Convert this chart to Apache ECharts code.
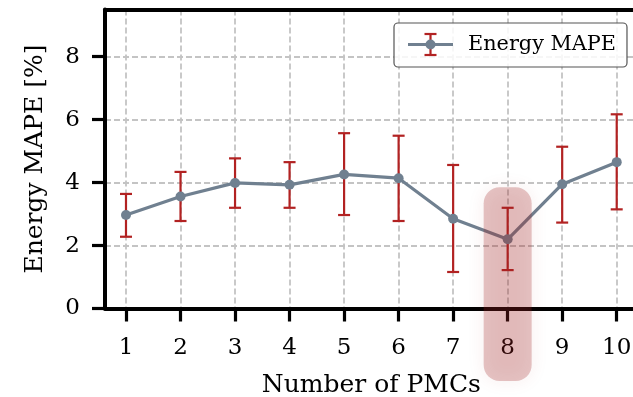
<!DOCTYPE html>
<html>
<head>
<meta charset="utf-8">
<script src="https://cdn.jsdelivr.net/npm/echarts@6/dist/echarts.min.js"></script>
<style>
html,body{margin:0;padding:0;background:#fff;}
#chart{width:633px;height:397px;}
</style>
</head>
<body>
<div id="chart"></div>
<script>
// ---- data ----
const pmcs = [1, 2, 3, 4, 5, 6, 7, 8, 9, 10];
const mape = [2.97, 3.56, 3.99, 3.93, 4.26, 4.14, 2.85, 2.20, 3.95, 4.65];
const errLow = [2.28, 2.78, 3.20, 3.20, 2.97, 2.78, 1.16, 1.22, 2.73, 3.15];
const errHigh = [3.64, 4.34, 4.77, 4.65, 5.57, 5.49, 4.56, 3.20, 5.14, 6.17];
const xTicks = [1, 2, 3, 4, 5, 6, 7, 8, 9, 10];
const yTicks = [0, 2, 4, 6, 8];
const highlightPMC = [8];
const highlightRange = [-2.3, 3.85];
const seriesName = 'Energy MAPE';

const FONT = 'DejaVu Serif';
const LINE_COLOR = '#708090';
const ERR_COLOR = '#b22222';
const GRID_COLOR = '#c4c4c4';

const chart = echarts.init(document.getElementById('chart'), null, {renderer: 'canvas'});

const lineData = pmcs.map((x, i) => [x, mape[i]]);
const errData = pmcs.map((x, i) => [x, errLow[i], errHigh[i]]);
const hlData = highlightPMC.map(x => [x, highlightRange[0], highlightRange[1]]);

// legend geometry (component layout, not data)
const LG = {left: 394, top: 23, w: 233, h: 44};
const iconX0 = LG.left + 14, iconX1 = iconX0 + 45, iconY = LG.top + 21.5;
const iconXc = (iconX0 + iconX1) / 2;

const option = {
  backgroundColor: '#fff',
  animation: false,
  grid: {left: 105, top: 9.5, right: -4.7, bottom: 88.5, containLabel: false, outerBoundsMode: 'none'},
  xAxis: [{
    type: 'value',
    min: 0.615, max: 10.385,
    minInterval: 1, maxInterval: 1,
    name: 'Number of PMCs',
    nameLocation: 'middle',
    nameGap: 64,
    nameTextStyle: {fontFamily: FONT, fontSize: 25, color: '#000'},
    axisLine: {show: true, onZero: false, lineStyle: {color: '#000', width: 4}},
    axisTick: {show: true, customValues: xTicks, length: 13, lineStyle: {color: '#000', width: 3.2}},
    axisLabel: {customValues: xTicks, margin: 28, fontFamily: FONT, fontSize: 23, color: '#000'},
    splitLine: {show: true, lineStyle: {color: GRID_COLOR, width: 1.8, type: [6, 3]}}
  }, {
    type: 'value',
    position: 'top',
    min: 0.615, max: 10.385,
    axisLine: {show: true, onZero: false, lineStyle: {color: '#000', width: 4}},
    axisTick: {show: false},
    axisLabel: {show: false},
    splitLine: {show: false}
  }],
  yAxis: {
    type: 'value',
    min: 0, max: 9.5, interval: 2,
    name: 'Energy MAPE [%]',
    nameLocation: 'middle',
    nameGap: 57,
    nameTextStyle: {fontFamily: FONT, fontSize: 25, color: '#000'},
    axisLine: {show: true, onZero: false, lineStyle: {color: '#000', width: 4}},
    axisTick: {show: true, customValues: yTicks, length: 13, lineStyle: {color: '#000', width: 3.2}},
    axisLabel: {customValues: yTicks, margin: 25, fontFamily: FONT, fontSize: 23, color: '#000'},
    splitLine: {show: true, lineStyle: {color: GRID_COLOR, width: 1.8, type: [6, 3]}}
  },
  legend: {
    left: LG.left, top: LG.top,
    padding: [11.5, 11, 11.5, 14],
    itemWidth: 55, itemHeight: 14,
    selectedMode: false,
    backgroundColor: 'rgba(255,255,255,0.85)',
    borderColor: '#555',
    borderWidth: 1.2,
    borderRadius: 4,
    textStyle: {fontFamily: FONT, fontSize: 20.8, color: '#000'},
    data: [{name: seriesName, icon: 'rect', itemStyle: {opacity: 0}}]
  },
  graphic: [
    {type: 'line', z: 20, shape: {x1: iconXc, y1: iconY - 10.5, x2: iconXc, y2: iconY + 10.5}, style: {stroke: ERR_COLOR, lineWidth: 2.2}},
    {type: 'line', z: 20, shape: {x1: iconXc - 6, y1: iconY - 10.5, x2: iconXc + 6, y2: iconY - 10.5}, style: {stroke: ERR_COLOR, lineWidth: 2.2}},
    {type: 'line', z: 20, shape: {x1: iconXc - 6, y1: iconY + 10.5, x2: iconXc + 6, y2: iconY + 10.5}, style: {stroke: ERR_COLOR, lineWidth: 2.2}},
    {type: 'line', z: 21, shape: {x1: iconX0, y1: iconY, x2: iconX1, y2: iconY}, style: {stroke: LINE_COLOR, lineWidth: 3.2}},
    {type: 'circle', z: 22, shape: {cx: iconXc, cy: iconY, r: 5}, style: {fill: LINE_COLOR}}
  ],
  series: [
    {
      type: 'custom',
      name: 'errorbars',
      xAxisIndex: 0,
      z: 2,
      clip: false,
      data: errData,
      encode: {x: 0, y: [1, 2]},
      renderItem: function (params, api) {
        const x = api.value(0);
        const pLo = api.coord([x, api.value(1)]);
        const pHi = api.coord([x, api.value(2)]);
        const h = 6;
        const st = {stroke: ERR_COLOR, lineWidth: 2.2};
        return {type: 'group', children: [
          {type: 'line', shape: {x1: pLo[0], y1: pLo[1], x2: pHi[0], y2: pHi[1]}, style: st},
          {type: 'line', shape: {x1: pHi[0] - h, y1: pHi[1], x2: pHi[0] + h, y2: pHi[1]}, style: st},
          {type: 'line', shape: {x1: pLo[0] - h, y1: pLo[1], x2: pLo[0] + h, y2: pLo[1]}, style: st}
        ]};
      }
    },
    {
      type: 'line',
      name: seriesName,
      xAxisIndex: 0,
      z: 3,
      data: lineData,
      symbol: 'circle',
      symbolSize: 10,
      lineStyle: {color: LINE_COLOR, width: 3.2},
      itemStyle: {color: LINE_COLOR}
    },
    {
      type: 'custom',
      name: 'highlight',
      xAxisIndex: 0,
      z: 100,
      clip: false,
      silent: true,
      data: hlData,
      encode: {x: 0, y: [1, 2]},
      renderItem: function (params, api) {
        const x = api.value(0);
        const half = api.size([1, 0])[0] * 0.44;
        const pTop = api.coord([x, api.value(2)]);
        const pBot = api.coord([x, api.value(1)]);
        return {
          type: 'rect',
          shape: {x: pTop[0] - half, y: pTop[1], width: half * 2, height: pBot[1] - pTop[1], r: 16},
          style: {fill: 'rgba(160,35,35,0.26)', shadowBlur: 18, shadowColor: 'rgba(160,35,35,0.3)'}
        };
      }
    }
  ]
};
chart.setOption(option);
</script>
</body>
</html>
